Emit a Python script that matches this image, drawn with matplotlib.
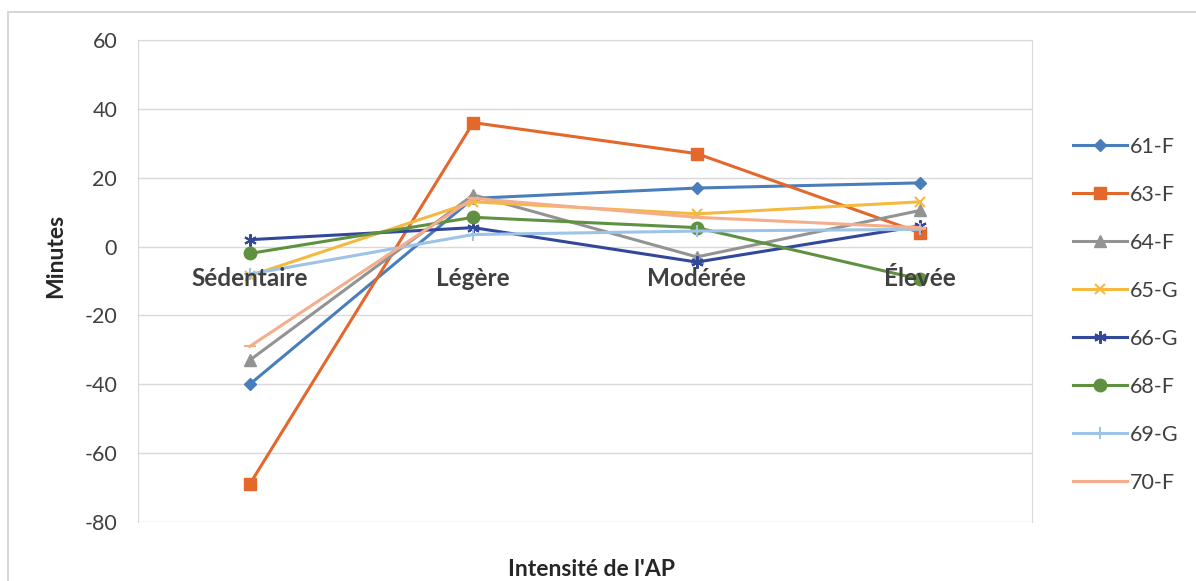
import matplotlib.pyplot as plt
from matplotlib.patches import Rectangle

plt.rcParams['font.family'] = ['Lato', 'DejaVu Sans']
plt.rcParams['axes.unicode_minus'] = False

categories = ['Sédentaire', 'Légère', 'Modérée', 'Élevée']
participants = ['61-F', '63-F', '64-F', '65-G', '66-G', '68-F', '69-G', '70-F']
minutes = {
    '61-F': [-40, 14, 17, 18.5],
    '63-F': [-69, 36, 27, 4],
    '64-F': [-33, 15, -3, 10.5],
    '65-G': [-8.5, 13, 9.5, 13],
    '66-G': [2, 5.5, -4.5, 6],
    '68-F': [-2, 8.5, 5.5, -9.5],
    '69-G': [-8, 3.5, 4.5, 5],
    '70-F': [-29, 14, 8.5, 5.5],
}

colors = ['#4a7ebb', '#e4672c', '#939393', '#f5b940',
          '#33479b', '#5f9140', '#9dc3e6', '#f4ae8c']
markers = ['D', 's', '^', 'x', (6, 2, 0), 'o', '+', '_']
msizes = [6, 9, 8, 7, 9, 9, 8, 8]

fig = plt.figure(figsize=(11.96, 5.81), dpi=100)
# chart area border (runs off the right and bottom edges)
fig.patches.append(Rectangle((8 / 1196, -0.1), 1.2, 1 - 12 / 581 + 0.1,
                             transform=fig.transFigure, fill=False,
                             edgecolor='#d0d0d0', linewidth=1.2))

ax = fig.add_axes([138 / 1196, 1 - 522 / 581, 894 / 1196, 482 / 581])
x = range(len(categories))
for name, c, m, ms in zip(participants, colors, markers, msizes):
    thin = m in ('x', '+', '_') or isinstance(m, tuple)
    ax.plot(x, minutes[name], color=c, marker=m, markersize=ms,
            markeredgewidth=1.5 if thin else 1,
            linewidth=2.2, label=name)

ax.set_xlim(-0.5, len(categories) - 0.5)
ax.set_ylim(-80, 60)
ax.set_yticks(range(-80, 61, 20))
ax.grid(axis='y', color='#d9d9d9', linewidth=1)
ax.set_axisbelow(True)
for side in ('top', 'right', 'left'):
    ax.spines[side].set_color('#d9d9d9')
# category labels sit just under the zero line, on top of the series
ax.spines['bottom'].set_position(('data', 0))
ax.spines['bottom'].set_visible(False)
ax.xaxis.set_zorder(3)

ax.set_xticks(list(x))
ax.set_xticklabels(categories, fontsize=17.5, fontweight='bold', color='#404040')
ax.tick_params(axis='x', length=0, pad=15)
ax.tick_params(axis='y', length=0, pad=15, labelsize=15.5, labelcolor='#404040')

fig.text(56 / 1196, 1 - 256 / 581, 'Minutes', rotation=90, ha='center',
         va='center', fontsize=16.5, fontweight='bold', color='#262626')
fig.text(592 / 1196, 1 - 570 / 581, "Intensité de l'AP", ha='center',
         va='center', fontsize=16.5, fontweight='bold', color='#262626')

fig.legend(loc='upper left', bbox_to_anchor=(1073 / 1196, 1 - 137 / 581),
           frameon=False, fontsize=15.5, handlelength=2.5, handletextpad=0.15,
           labelspacing=1.3, borderpad=0, borderaxespad=0,
           labelcolor='#404040')

fig.savefig('out.png', dpi=100)
